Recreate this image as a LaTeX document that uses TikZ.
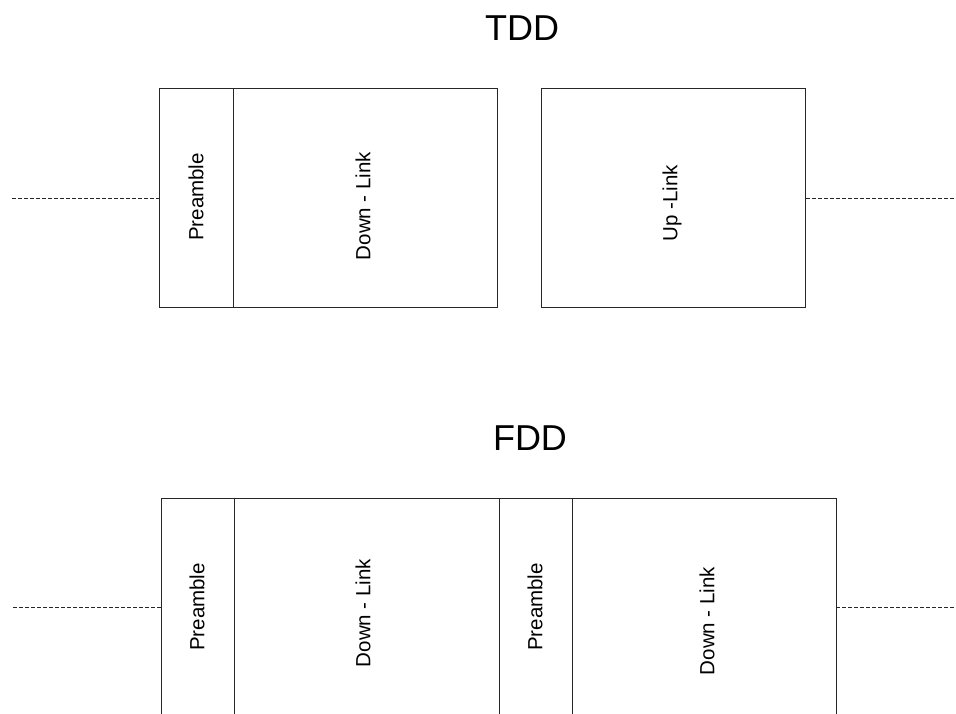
\documentclass[tikz,border=0pt]{standalone}
\usepackage{fontspec}
\setmainfont{Liberation Sans}
\begin{document}
\begin{tikzpicture}[x=1pt,y=-1pt,
  frame/.style={draw=black!85, line width=1pt},
  dash line/.style={draw=black!85, line width=0.9pt, dash pattern=on 4pt off 2pt},
  lbl/.style={rotate=90, font=\fontsize{20.5}{24}\selectfont, inner sep=0pt},
  ttl/.style={font=\fontsize{36}{40}\selectfont, inner sep=0pt}]
\useasboundingbox (0,0) rectangle (956,713);
\clip (0,0) rectangle (956,713);
% TDD
\node[ttl] (tddt) at (522,28) {TDD};
\node[frame, minimum width=74pt, minimum height=219pt, inner sep=0pt, anchor=north west] (tp) at (159,88) {};
\node[frame, minimum width=264pt, minimum height=219pt, inner sep=0pt, anchor=north west] (tdl) at (233,88) {};
\node[frame, minimum width=264pt, minimum height=219pt, inner sep=0pt, anchor=north west] (tul) at (541,88) {};
\node[lbl] (tpl) at (196,197) {Preamble};
\node[lbl] (tdll) at (363,206) {Down - Link};
\node[lbl] (tull) at (672,203) {Up -Link};
\coordinate (tl) at (12,197);
\coordinate (tr) at (956,197);
\draw[dash line] (tl |- tp.west) -- (tp.west);
\draw[dash line] (tul.east) -- (tr |- tul.east);
% FDD
\node[ttl] (fddt) at (530,438) {FDD};
\node[frame, minimum width=73pt, minimum height=240pt, inner sep=0pt, anchor=north west] (fp1) at (161,498) {};
\node[frame, minimum width=265pt, minimum height=240pt, inner sep=0pt, anchor=north west] (fd1) at (234,498) {};
\node[frame, minimum width=73pt, minimum height=240pt, inner sep=0pt, anchor=north west] (fp2) at (499,498) {};
\node[frame, minimum width=264pt, minimum height=240pt, inner sep=0pt, anchor=north west] (fd2) at (572,498) {};
\node[lbl] (fp1l) at (197,607) {Preamble};
\node[lbl] (fd1l) at (363,613) {Down - Link};
\node[lbl] (fp2l) at (535,607) {Preamble};
\node[lbl] (fd2l) at (707,621) {Down - Link};
\coordinate (fl) at (13,607);
\coordinate (fr) at (956,607);
\coordinate (fpw) at (161,607);
\coordinate (fde) at (836,607);
\draw[dash line] (fl) -- (fpw);
\draw[dash line] (fde) -- (fr);
\end{tikzpicture}
\end{document}
